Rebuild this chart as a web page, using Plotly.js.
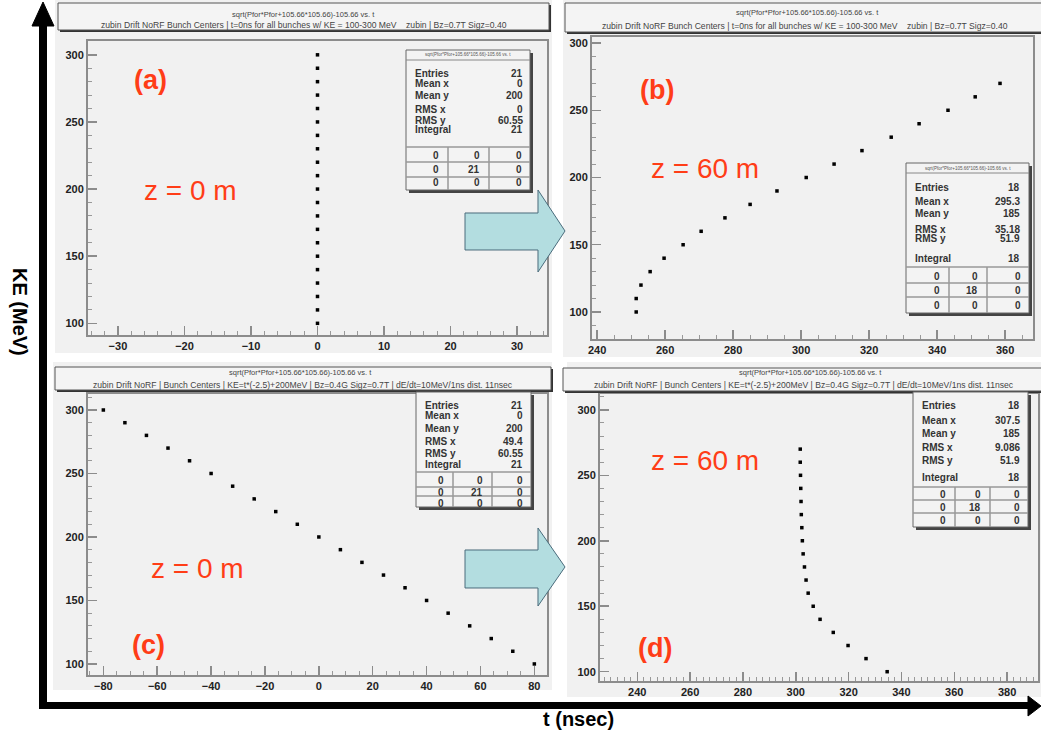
<!DOCTYPE html>
<html><head><meta charset="utf-8">
<script src="https://cdn.plot.ly/plotly-3.0.1.min.js"></script>
<style>html,body{margin:0;padding:0;background:#fff}#chart{width:1041px;height:736px}</style>
</head><body><div id="chart"></div>
<script>
// ---------- data ----------
const keA = [100,110,120,130,140,150,160,170,180,190,200,210,220,230,240,250,260,270,280,290,300];
const tA  = [0,0,0,0,0,0,0,0,0,0,0,0,0,0,0,0,0,0,0,0,0];

const keB = [100,110,120,130,140,150,160,170,180,190,200,210,220,230,240,250,260,270];
const tB  = [251.5,251.5,252.9,255.6,259.7,265.3,270.6,277.6,285.0,292.9,301.5,309.7,317.9,326.5,334.7,343.2,351.2,358.5];

const keC = [100,110,120,130,140,150,160,170,180,190,200,210,220,230,240,250,260,270,280,290,300];
const tC  = [80,72,64,56,48,40,32,24,16,8,0,-8,-16,-24,-32,-40,-48,-56,-64,-72,-80];

const keD = [100,110,120,130,140,150,160,170,180,190,200,210,220,230,240,250,260,270];
const tD  = [334.6,326.6,319.8,314.2,309.2,306.6,304.7,303.9,303.3,302.8,302.5,302.3,302.1,302.0,301.9,301.8,301.7,301.7];

const statLabels = ['Entries','Mean x','Mean y','RMS x','RMS y','Integral'];
const statsA = ['21','0','200','0','60.55','21'];
const statsB = ['18','295.3','185','35.18','51.9','18'];
const statsC = ['21','0','200','49.4','60.55','21'];
const statsD = ['18','307.5','185','9.086','51.9','18'];
const gridA = [['0','0','0'],['0','21','0'],['0','0','0']];
const gridB = [['0','0','0'],['0','18','0'],['0','0','0']];
const gridC = [['0','0','0'],['0','21','0'],['0','0','0']];
const gridD = [['0','0','0'],['0','18','0'],['0','0','0']];

const panelLabels = ['(a)','(b)','(c)','(d)'];
const zLabels = ['z = 0 m','z = 60 m','z = 0 m','z = 60 m'];
const histTitle = 'sqrt(Pfor*Pfor+105.66*105.66)-105.66 vs. t';
const subTitles = [
  'zubin Drift NoRF Bunch Centers | t=0ns for all bunches w/ KE = 100-300 MeV    zubin | Bz=0.7T Sigz=0.40',
  'zubin Drift NoRF Bunch Centers | t=0ns for all bunches w/ KE = 100-300 MeV    zubin | Bz=0.7T Sigz=0.40',
  'zubin Drift NoRF | Bunch Centers | KE=t*(-2.5)+200MeV | Bz=0.4G Sigz=0.7T | dE/dt=10MeV/1ns dist. 11nsec',
  'zubin Drift NoRF | Bunch Centers | KE=t*(-2.5)+200MeV | Bz=0.4G Sigz=0.7T | dE/dt=10MeV/1ns dist. 11nsec'
];

// ---------- helpers ----------
const W = 1041, H = 736;
const X = p => p / W;
const Y = p => 1 - p / H;
const RED = '#ff3d17';
const GRAYBG = '#f1f1f1';
const shapes = [];
const ann = [];

function rect(x0,y0,x1,y1,fill,line,lw,layer){
  shapes.push({type:'rect',xref:'paper',yref:'paper',x0:X(x0),x1:X(x1),y0:Y(y1),y1:Y(y0),
    fillcolor:fill,line:{color:line||'rgba(0,0,0,0)',width:lw||0},layer:layer||'below'});
}
function hline(x0,x1,y,color,w,layer){
  shapes.push({type:'line',xref:'paper',yref:'paper',x0:X(x0),x1:X(x1),y0:Y(y),y1:Y(y),
    line:{color:color,width:w},layer:layer||'above'});
}
function vline(x,y0,y1,color,w,layer){
  shapes.push({type:'line',xref:'paper',yref:'paper',x0:X(x),x1:X(x),y0:Y(y0),y1:Y(y1),
    line:{color:color,width:w},layer:layer||'above'});
}
function poly(pts,fill,line,lw){
  let d = pts.map((p,i)=>(i?'L':'M')+X(p[0]).toFixed(5)+','+Y(p[1]).toFixed(5)).join(' ')+' Z';
  shapes.push({type:'path',xref:'paper',yref:'paper',path:d,fillcolor:fill,line:{color:line,width:lw},layer:'above'});
}
function text(x,y,t,size,color,opts){
  ann.push(Object.assign({xref:'paper',yref:'paper',x:X(x),y:Y(y),text:t,showarrow:false,
    font:{family:'Liberation Sans, Arial, sans-serif',size:size,color:color},xanchor:'center',yanchor:'middle'},opts||{}));
}

// panel canvases
rect(55,0,552,353,GRAYBG);
rect(563,0,1041,357,GRAYBG);
rect(53,362,552,690,GRAYBG);
rect(567,362,1041,697,GRAYBG);

// title boxes
function titleBox(l,t,r,b,cx,y1,y2,sub){
  rect(l+2,t+2,r+2,b+2,'#333','#333',0,'above');
  rect(l,t,r,b,'#f4f4f4','#555',1,'above');
  text(cx,y1,histTitle,7.5,'#444');
  text((l+r)/2,y2,sub,8.6,'#444');
}
titleBox(58,3,549,30,303,14,25,subTitles[0]);
titleBox(565,3,1045,32,807,13,26,subTitles[1]);
titleBox(55,367,551,390,300,373,385,subTitles[2]);
titleBox(563,368,1045,391,810,373,385,subTitles[3]);

// stats boxes
function statsBox(b){
  rect(b.l+3,b.t+3,b.r+3,b.b+3,'#444','#444',0,'above');
  rect(b.l,b.t,b.r,b.b,'#f3f3f3','#666',1,'above');
  if (b.titleY) { text((b.l+b.r)/2,b.titleY,histTitle,4.5,'#555'); hline(b.l,b.r,b.titleY+5,'#888',1); }
  for (let i=0;i<6;i++){
    text(b.l+7,b.rows[i],'<b>'+statLabels[i]+'</b>',10,'#333',{xanchor:'left'});
    text(b.vr,b.rows[i],'<b>'+b.vals[i]+'</b>',10,'#333',{xanchor:'right'});
  }
  b.lines.forEach(y=>hline(b.l,b.r,y,'#999',1.5));
  vline(b.seps[0],b.lines[0],b.b,'#999',1.5);
  vline(b.seps[1],b.lines[0],b.b,'#999',1.5);
  const colR = [b.seps[0]-7,b.seps[1]-7,b.r-6];
  for (let r=0;r<3;r++) for (let c=0;c<3;c++)
    text(colR[c],b.gridY[r],'<b>'+b.grid[r][c]+'</b>',10,'#333',{xanchor:'right'});
}
statsBox({l:406,t:50,r:530,b:190,titleY:55,rows:[73,84,95,110,120,130],vr:525,vals:statsA,
  lines:[147,162,177],seps:[448,489],gridY:[155,169,183],grid:gridA});
statsBox({l:906,t:163,r:1029,b:313,titleY:168,rows:[187,202,213,229,239,258],vr:1022,vals:statsB,
  lines:[267,283,297],seps:[949,987],gridY:[276,290,305],grid:gridB});
statsBox({l:416,t:392,r:531,b:507,rows:[405,416,429,442,453,465],vr:525,vals:statsC,
  lines:[472,487,496],seps:[453,492],gridY:[480,492,503],grid:gridC});
statsBox({l:913,t:392,r:1028,b:527,rows:[405,420,433,447,460,477],vr:1022,vals:statsD,
  lines:[487,500,513],seps:[955,990],gridY:[494,507,520],grid:gridD});

// cyan arrows
const CY='#b3dde0', CYL='#4a6c7c';
poly([[465,213],[538,213],[538,190],[565,231],[538,272],[538,250],[465,250]],CY,CYL,1);
poly([[465,550],[538,550],[538,528],[565,567],[538,606],[538,588],[465,588]],CY,CYL,1);

// black outer axes
rect(39,22,47,709,'#000','#000',0,'above');
poly([[32,26],[54,26],[43,2]],'#000','#000',1);
rect(39,702,1030,709,'#000','#000',0,'above');
poly([[1028,696],[1028,716],[1041,706]],'#000','#000',1);
text(20,312,'<b>KE (MeV)</b>',20,'#000',{textangle:90});
text(578,719,'<b>t (nsec)</b>',20,'#000');

// red labels
const labPos = [[150,80],[657,90],[148,645],[655,648]];
const zPos = [[190,190],[705,168],[197,568],[705,460]];
for (let i=0;i<4;i++){
  text(labPos[i][0],labPos[i][1],'<b>'+panelLabels[i]+'</b>',27,RED);
  text(zPos[i][0],zPos[i][1],zLabels[i],28,RED);
}

// ---------- axes ----------
function ax(domain,range,dtick,minor,extra){
  return Object.assign({domain:domain,range:range,dtick:dtick,tick0:0,showgrid:false,zeroline:false,
    showline:true,mirror:true,linecolor:'#8c8c8c',linewidth:2,ticks:'inside',ticklen:9,tickwidth:1.5,
    tickcolor:'#8c8c8c',minor:{ticks:'inside',ticklen:4,dtick:minor,tickcolor:'#999',tickwidth:1,showgrid:false},
    tickfont:{family:'Liberation Sans, Arial',size:11,color:'#222',weight:'bold'},fixedrange:true},extra||{});
}
const layout = {
  width:W,height:H,margin:{l:0,r:0,t:0,b:0},paper_bgcolor:'#fff',plot_bgcolor:GRAYBG,showlegend:false,
  xaxis: ax([X(88),X(547)],[-34.5,34.5],10,2,{anchor:'y'}),
  yaxis: ax([Y(335),Y(41)],[91.3,310.3],50,10,{anchor:'x'}),
  xaxis2: ax([X(592),X(1033)],[238.5,368.2],20,5,{anchor:'y2'}),
  yaxis2: ax([Y(339),Y(37)],[79.9,304.5],50,10,{anchor:'x2'}),
  xaxis3: ax([X(88),X(547)],[-85.7,84.7],20,5,{anchor:'y3'}),
  yaxis3: ax([Y(675),Y(394)],[91.3,312.6],50,10,{anchor:'x3'}),
  xaxis4: ax([X(600),X(1038)],[225.9,391.7],20,2.5,{anchor:'y4'}),
  yaxis4: ax([Y(681),Y(394)],[92.9,312.1],50,10,{anchor:'x4'}),
  shapes:shapes, annotations:ann
};
const mk = {symbol:'square',size:3.5,color:'#000'};
const traces = [
  {x:tA,y:keA,type:'scatter',mode:'markers',marker:mk,xaxis:'x',yaxis:'y'},
  {x:tB,y:keB,type:'scatter',mode:'markers',marker:mk,xaxis:'x2',yaxis:'y2'},
  {x:tC,y:keC,type:'scatter',mode:'markers',marker:mk,xaxis:'x3',yaxis:'y3'},
  {x:tD,y:keD,type:'scatter',mode:'markers',marker:mk,xaxis:'x4',yaxis:'y4'}
];
Plotly.newPlot('chart',traces,layout,{staticPlot:true});
</script></body></html>
